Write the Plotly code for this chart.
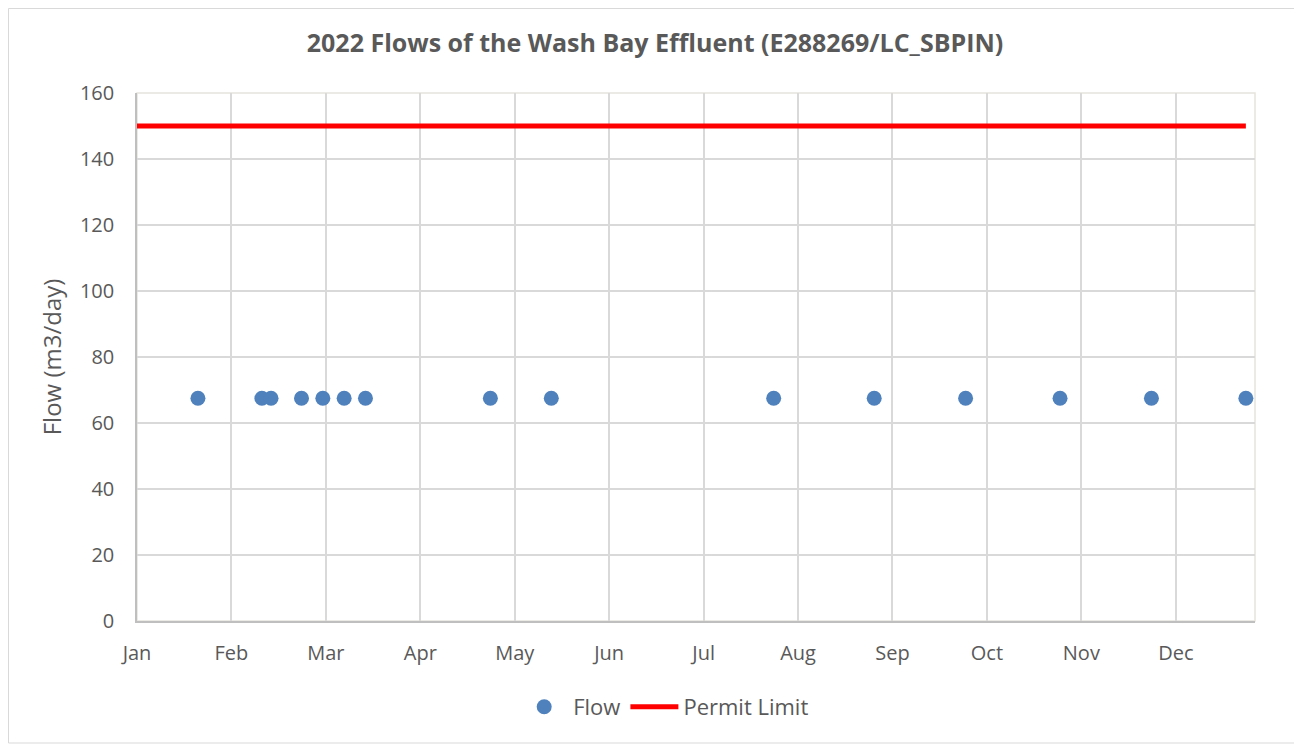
import plotly.graph_objects as go

# sample dates and flows
flow_dates = ["2022-01-21", "2022-02-11", "2022-02-14", "2022-02-24", "2022-03-03",
              "2022-03-10", "2022-03-17", "2022-04-27", "2022-05-17", "2022-07-29",
              "2022-08-31", "2022-09-30", "2022-10-31", "2022-11-30", "2022-12-31"]
flow_values = [67.5, 67.5, 67.5, 67.5, 67.5, 67.5, 67.5, 67.5, 67.5, 67.5,
               67.5, 67.5, 67.5, 67.5, 67.5]

limit_dates = ["2022-01-01", "2022-12-31"]
limit_values = [150, 150]

# page body has an 8px margin, so the figure is a little smaller than the window
W, H = 1294, 736
ml, mr, mt, mb = 129, 47, 85, 123
pw = W - ml - mr
ph = H - mt - mb

font_name = "'Open Sans', sans-serif"
grey = "#595959"

fig = go.Figure()
fig.add_trace(go.Scatter(
    x=flow_dates, y=flow_values, mode="markers", name="Flow",
    marker=dict(color="#4f81bd", size=15, line=dict(width=0))
))
fig.add_trace(go.Scatter(
    x=limit_dates, y=limit_values, mode="lines", name="Permit Limit",
    line=dict(color="#ff0000", width=5)
))

# outer chart border
fig.add_shape(type="rect", xref="paper", yref="paper",
              x0=-(ml - 0.5) / pw, x1=(W - 1 - ml) / pw,
              y0=-(mb - 1) / ph, y1=(ph + mt - 0.5) / ph,
              line=dict(color="#d9d9d9", width=1), layer="below")
# light border round the plot area
fig.add_shape(type="rect", xref="paper", yref="paper", x0=0, x1=1, y0=0, y1=1,
              line=dict(color="#e6e4dc", width=1.5), layer="below")

fig.update_layout(
    width=W, height=H,
    margin=dict(l=ml, r=mr, t=mt, b=mb),
    paper_bgcolor="white", plot_bgcolor="white",
    font=dict(family=font_name, color=grey, size=20),
    title=dict(text="<b>2022 Flows of the Wash Bay Effluent (E288269/LC_SBPIN)</b>",
               x=0.5, xanchor="center", y=1 - 35 / H, yanchor="middle",
               font=dict(size=25, color=grey)),
    showlegend=True,
    legend=dict(orientation="h", x=0.472, xanchor="center", y=-(699 - mt - ph) / ph,
                yanchor="middle", font=dict(size=22, color=grey),
                itemwidth=48),
)
fig.update_xaxes(
    type="date", range=["2022-01-01", "2023-01-03"],
    tick0="2022-01-01", dtick=31 * 86400000, tickformat="%b",
    showgrid=True, gridcolor="#d9d9d9", gridwidth=1.5,
    showline=True, linecolor="#bfbfbf", linewidth=1.5, mirror=False,
    ticks="", ticklabelstandoff=13, zeroline=False,
    tickfont=dict(size=20, color=grey)
)
fig.update_yaxes(
    range=[0, 160], dtick=20,
    showgrid=True, gridcolor="#d9d9d9", gridwidth=1.5,
    showline=True, linecolor="#bfbfbf", linewidth=1.5,
    ticks="", ticklabelstandoff=17, zeroline=False,
    title=dict(text="Flow (m3/day)", font=dict(size=24, color=grey), standoff=12),
    tickfont=dict(size=20, color=grey)
)

fig.write_html("out.html")
